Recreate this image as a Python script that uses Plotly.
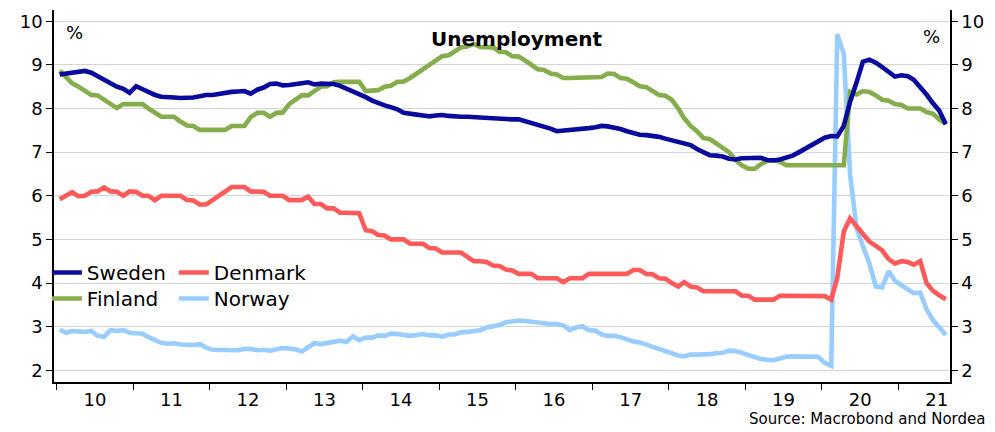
import pandas as pd
import plotly.graph_objects as go

# Monthly data, Jan 2010 - Aug 2021
start_month = "2010-01-01"
n_months = 140

sweden = [8.78, 8.80, 8.83, 8.85, 8.86, 8.82, 8.75, 8.68, 8.58, 8.50,
          8.45, 8.36, 8.51, 8.44, 8.37, 8.31, 8.27, 8.25, 8.25, 8.24,
          8.24, 8.25, 8.28, 8.31, 8.31, 8.34, 8.35, 8.38, 8.39, 8.40,
          8.34, 8.43, 8.48, 8.56, 8.57, 8.53, 8.54, 8.55, 8.58, 8.60,
          8.55, 8.57, 8.57, 8.56, 8.52, 8.46, 8.40, 8.33, 8.26, 8.18,
          8.12, 8.07, 8.03, 7.98, 7.90, 7.89, 7.86, 7.84, 7.82, 7.84,
          7.85, 7.83, 7.81, 7.81, 7.81, 7.80, 7.78, 7.78, 7.78, 7.77,
          7.76, 7.75, 7.75, 7.71, 7.67, 7.63, 7.59, 7.54, 7.48, 7.49,
          7.50, 7.52, 7.53, 7.55, 7.57, 7.60, 7.59, 7.57, 7.53, 7.48,
          7.43, 7.40, 7.39, 7.38, 7.35, 7.31, 7.27, 7.24, 7.20, 7.16,
          7.07, 6.99, 6.93, 6.92, 6.90, 6.85, 6.83, 6.86, 6.87, 6.88,
          6.87, 6.82, 6.81, 6.83, 6.87, 6.92, 7.00, 7.08, 7.15, 7.24,
          7.33, 7.37, 7.36, 7.60, 8.15, 8.60, 9.07, 9.12, 9.05, 8.95,
          8.85, 8.73, 8.76, 8.74, 8.66, 8.50, 8.32, 8.12, 7.95, 7.64]

denmark = [5.92, 6.02, 6.08, 5.99, 6.00, 6.09, 6.10, 6.19, 6.10, 6.09,
           6.00, 6.10, 6.09, 6.00, 6.00, 5.90, 6.00, 6.00, 6.00, 6.00,
           5.90, 5.89, 5.80, 5.80, 5.90, 6.00, 6.10, 6.20, 6.20, 6.20,
           6.10, 6.10, 6.09, 6.00, 6.00, 6.00, 5.90, 5.90, 5.90, 5.98,
           5.81, 5.81, 5.71, 5.71, 5.61, 5.61, 5.61, 5.60, 5.21, 5.19,
           5.10, 5.09, 5.00, 5.00, 5.00, 4.90, 4.90, 4.90, 4.80, 4.79,
           4.70, 4.70, 4.70, 4.70, 4.60, 4.50, 4.50, 4.48, 4.40, 4.39,
           4.31, 4.29, 4.21, 4.21, 4.21, 4.11, 4.11, 4.11, 4.11, 4.02,
           4.11, 4.11, 4.11, 4.21, 4.21, 4.21, 4.21, 4.21, 4.21, 4.21,
           4.30, 4.30, 4.21, 4.20, 4.11, 4.10, 4.00, 3.92, 4.02, 3.92,
           3.90, 3.81, 3.81, 3.81, 3.81, 3.81, 3.81, 3.71, 3.71, 3.62,
           3.62, 3.62, 3.62, 3.71, 3.71, 3.71, 3.71, 3.71, 3.71, 3.71,
           3.70, 3.62, 4.12, 5.18, 5.48, 5.30, 5.12, 4.95, 4.85, 4.75,
           4.55, 4.45, 4.50, 4.48, 4.42, 4.50, 4.00, 3.82, 3.72, 3.63]

finland = [8.87, 8.72, 8.58, 8.50, 8.40, 8.31, 8.30, 8.20, 8.10, 8.01,
           8.10, 8.10, 8.10, 8.10, 8.00, 7.90, 7.81, 7.81, 7.81, 7.70,
           7.61, 7.60, 7.51, 7.51, 7.51, 7.51, 7.51, 7.60, 7.60, 7.60,
           7.80, 7.90, 7.90, 7.81, 7.90, 7.91, 8.10, 8.20, 8.30, 8.30,
           8.40, 8.50, 8.51, 8.60, 8.61, 8.61, 8.61, 8.61, 8.40, 8.40,
           8.42, 8.50, 8.52, 8.61, 8.62, 8.70, 8.80, 8.90, 9.00, 9.10,
           9.20, 9.22, 9.30, 9.40, 9.42, 9.48, 9.41, 9.40, 9.40, 9.30,
           9.29, 9.20, 9.19, 9.10, 9.00, 8.90, 8.88, 8.80, 8.78, 8.70,
           8.70, 8.70, 8.70, 8.70, 8.70, 8.72, 8.80, 8.79, 8.70, 8.68,
           8.60, 8.51, 8.49, 8.40, 8.31, 8.29, 8.20, 8.00, 7.78, 7.60,
           7.48, 7.32, 7.30, 7.20, 7.10, 7.00, 6.82, 6.70, 6.62, 6.62,
           6.72, 6.80, 6.82, 6.78, 6.70, 6.70, 6.70, 6.70, 6.70, 6.70,
           6.70, 6.70, 6.70, 6.70, 8.38, 8.32, 8.40, 8.38, 8.30, 8.20,
           8.18, 8.10, 8.08, 8.00, 8.00, 8.00, 7.92, 7.88, 7.75, 7.65]

norway = [2.93, 2.86, 2.90, 2.88, 2.88, 2.90, 2.79, 2.77, 2.92, 2.90,
          2.92, 2.86, 2.86, 2.84, 2.76, 2.70, 2.63, 2.61, 2.62, 2.59,
          2.58, 2.58, 2.60, 2.52, 2.47, 2.47, 2.45, 2.46, 2.46, 2.49,
          2.49, 2.46, 2.47, 2.45, 2.47, 2.51, 2.50, 2.48, 2.43, 2.54,
          2.62, 2.60, 2.63, 2.66, 2.68, 2.65, 2.78, 2.69, 2.75, 2.75,
          2.80, 2.79, 2.84, 2.83, 2.82, 2.79, 2.81, 2.83, 2.80, 2.80,
          2.77, 2.82, 2.82, 2.87, 2.88, 2.90, 2.92, 2.98, 3.01, 3.04,
          3.10, 3.13, 3.14, 3.13, 3.11, 3.08, 3.06, 3.06, 3.06, 3.03,
          2.92, 2.98, 3.01, 2.92, 2.91, 2.82, 2.79, 2.79, 2.76, 2.70,
          2.66, 2.64, 2.59, 2.55, 2.50, 2.45, 2.38, 2.34, 2.32, 2.36,
          2.36, 2.36, 2.37, 2.39, 2.40, 2.45, 2.44, 2.40, 2.35, 2.30,
          2.26, 2.24, 2.23, 2.27, 2.31, 2.32, 2.32, 2.32, 2.30, 2.31,
          2.17, 2.10, 9.70, 9.25, 6.50, 5.25, 4.85, 4.45, 3.92, 3.90,
          4.27, 4.05, 3.95, 3.85, 3.77, 3.78, 3.40, 3.15, 3.00, 2.81]

y_ticks = [2, 3, 4, 5, 6, 7, 8, 9, 10]

dates = pd.date_range(start_month, periods=n_months, freq="MS") + pd.Timedelta(days=14)

FONT = "DejaVu Sans"
colors = {"Sweden": "#0A0A9C", "Denmark": "#FF5A5A", "Finland": "#86AD4C", "Norway": "#99CCFF"}

# page body has an 8px default margin; plot area placed to match the reference
W, H = 987, 424
ML, MR, MT, MB = 46, 45, 2, 50
PW, PH = W - ML - MR, H - MT - MB
OFF = 8


def px(xp):
    return (xp - OFF - ML) / PW


def py(yp):
    return (H - MB - (yp - OFF)) / PH


fig = go.Figure()
# drawing order (bottom to top); each series gets its own legend box
series = [("Norway", norway, "legend4"), ("Finland", finland, "legend3"),
          ("Denmark", denmark, "legend2"), ("Sweden", sweden, "legend")]
for name, vals, leg in series:
    fig.add_trace(go.Scatter(x=dates, y=vals, name=name, mode="lines",
                             line=dict(color=colors[name], width=4.6),
                             legend=leg))
# invisible trace to carry the right-hand axis
fig.add_trace(go.Scatter(x=dates, y=sweden, yaxis="y2", mode="lines",
                         line=dict(width=0), opacity=0, showlegend=False,
                         hoverinfo="skip"))

yr = [1.732, 10.257]
col1_x = -0.008
col2_x = col1_x + 127 / PW
row1_y = py(253)
row2_y = py(279)
leg_common = dict(xanchor="left", yanchor="top", font=dict(size=20),
                  bgcolor="rgba(0,0,0,0)", orientation="v")

fig.update_layout(
    width=W, height=H,
    margin=dict(l=ML, r=MR, t=MT, b=MB),
    paper_bgcolor="white", plot_bgcolor="white",
    font=dict(family=FONT, color="black", size=18),
    xaxis=dict(type="date", range=["2009-12-19", "2021-09-04"],
               dtick="M12", tick0="2010-01-01", ticklabelmode="period",
               tickformat="%y", ticks="outside", ticklen=6, tickcolor="black",
               showline=True, linecolor="black", linewidth=1.5,
               ticklabelstandoff=-5,
               showgrid=False, zeroline=False, tickfont=dict(size=18)),
    yaxis=dict(range=yr, tickvals=y_ticks, ticks="outside", ticklen=6,
               tickcolor="black", showline=True, linecolor="black", linewidth=1.5,
               showgrid=True, gridcolor="#D4D4D4", gridwidth=1, zeroline=False,
               tickfont=dict(size=18)),
    yaxis2=dict(range=yr, tickvals=y_ticks, overlaying="y", side="right",
                ticks="outside", ticklen=6, tickcolor="black", showline=True,
                linecolor="black", linewidth=1.5, showgrid=False, zeroline=False,
                tickfont=dict(size=18)),
    legend=dict(x=col1_x, y=row1_y, **leg_common),
    legend2=dict(x=col2_x, y=row1_y, **leg_common),
    legend3=dict(x=col1_x, y=row2_y, **leg_common),
    legend4=dict(x=col2_x, y=row2_y, **leg_common),
    showlegend=True,
    annotations=[
        dict(text="<b>Unemployment</b>", xref="paper", yref="paper",
             x=px(516), y=py(39), xanchor="center", yanchor="middle",
             showarrow=False, font=dict(size=20)),
        dict(text="%", xref="paper", yref="paper", x=px(74),
             y=py(33), xanchor="center", yanchor="middle",
             showarrow=False, font=dict(size=18)),
        dict(text="%", xref="paper", yref="paper", x=px(931),
             y=py(36), xanchor="center", yanchor="middle",
             showarrow=False, font=dict(size=18)),
        dict(text="Source: Macrobond and Nordea", xref="paper", yref="paper",
             x=px(987), y=py(419), xanchor="right",
             yanchor="middle", showarrow=False, font=dict(size=15)),
    ],
)

fig.write_html("out.html")
